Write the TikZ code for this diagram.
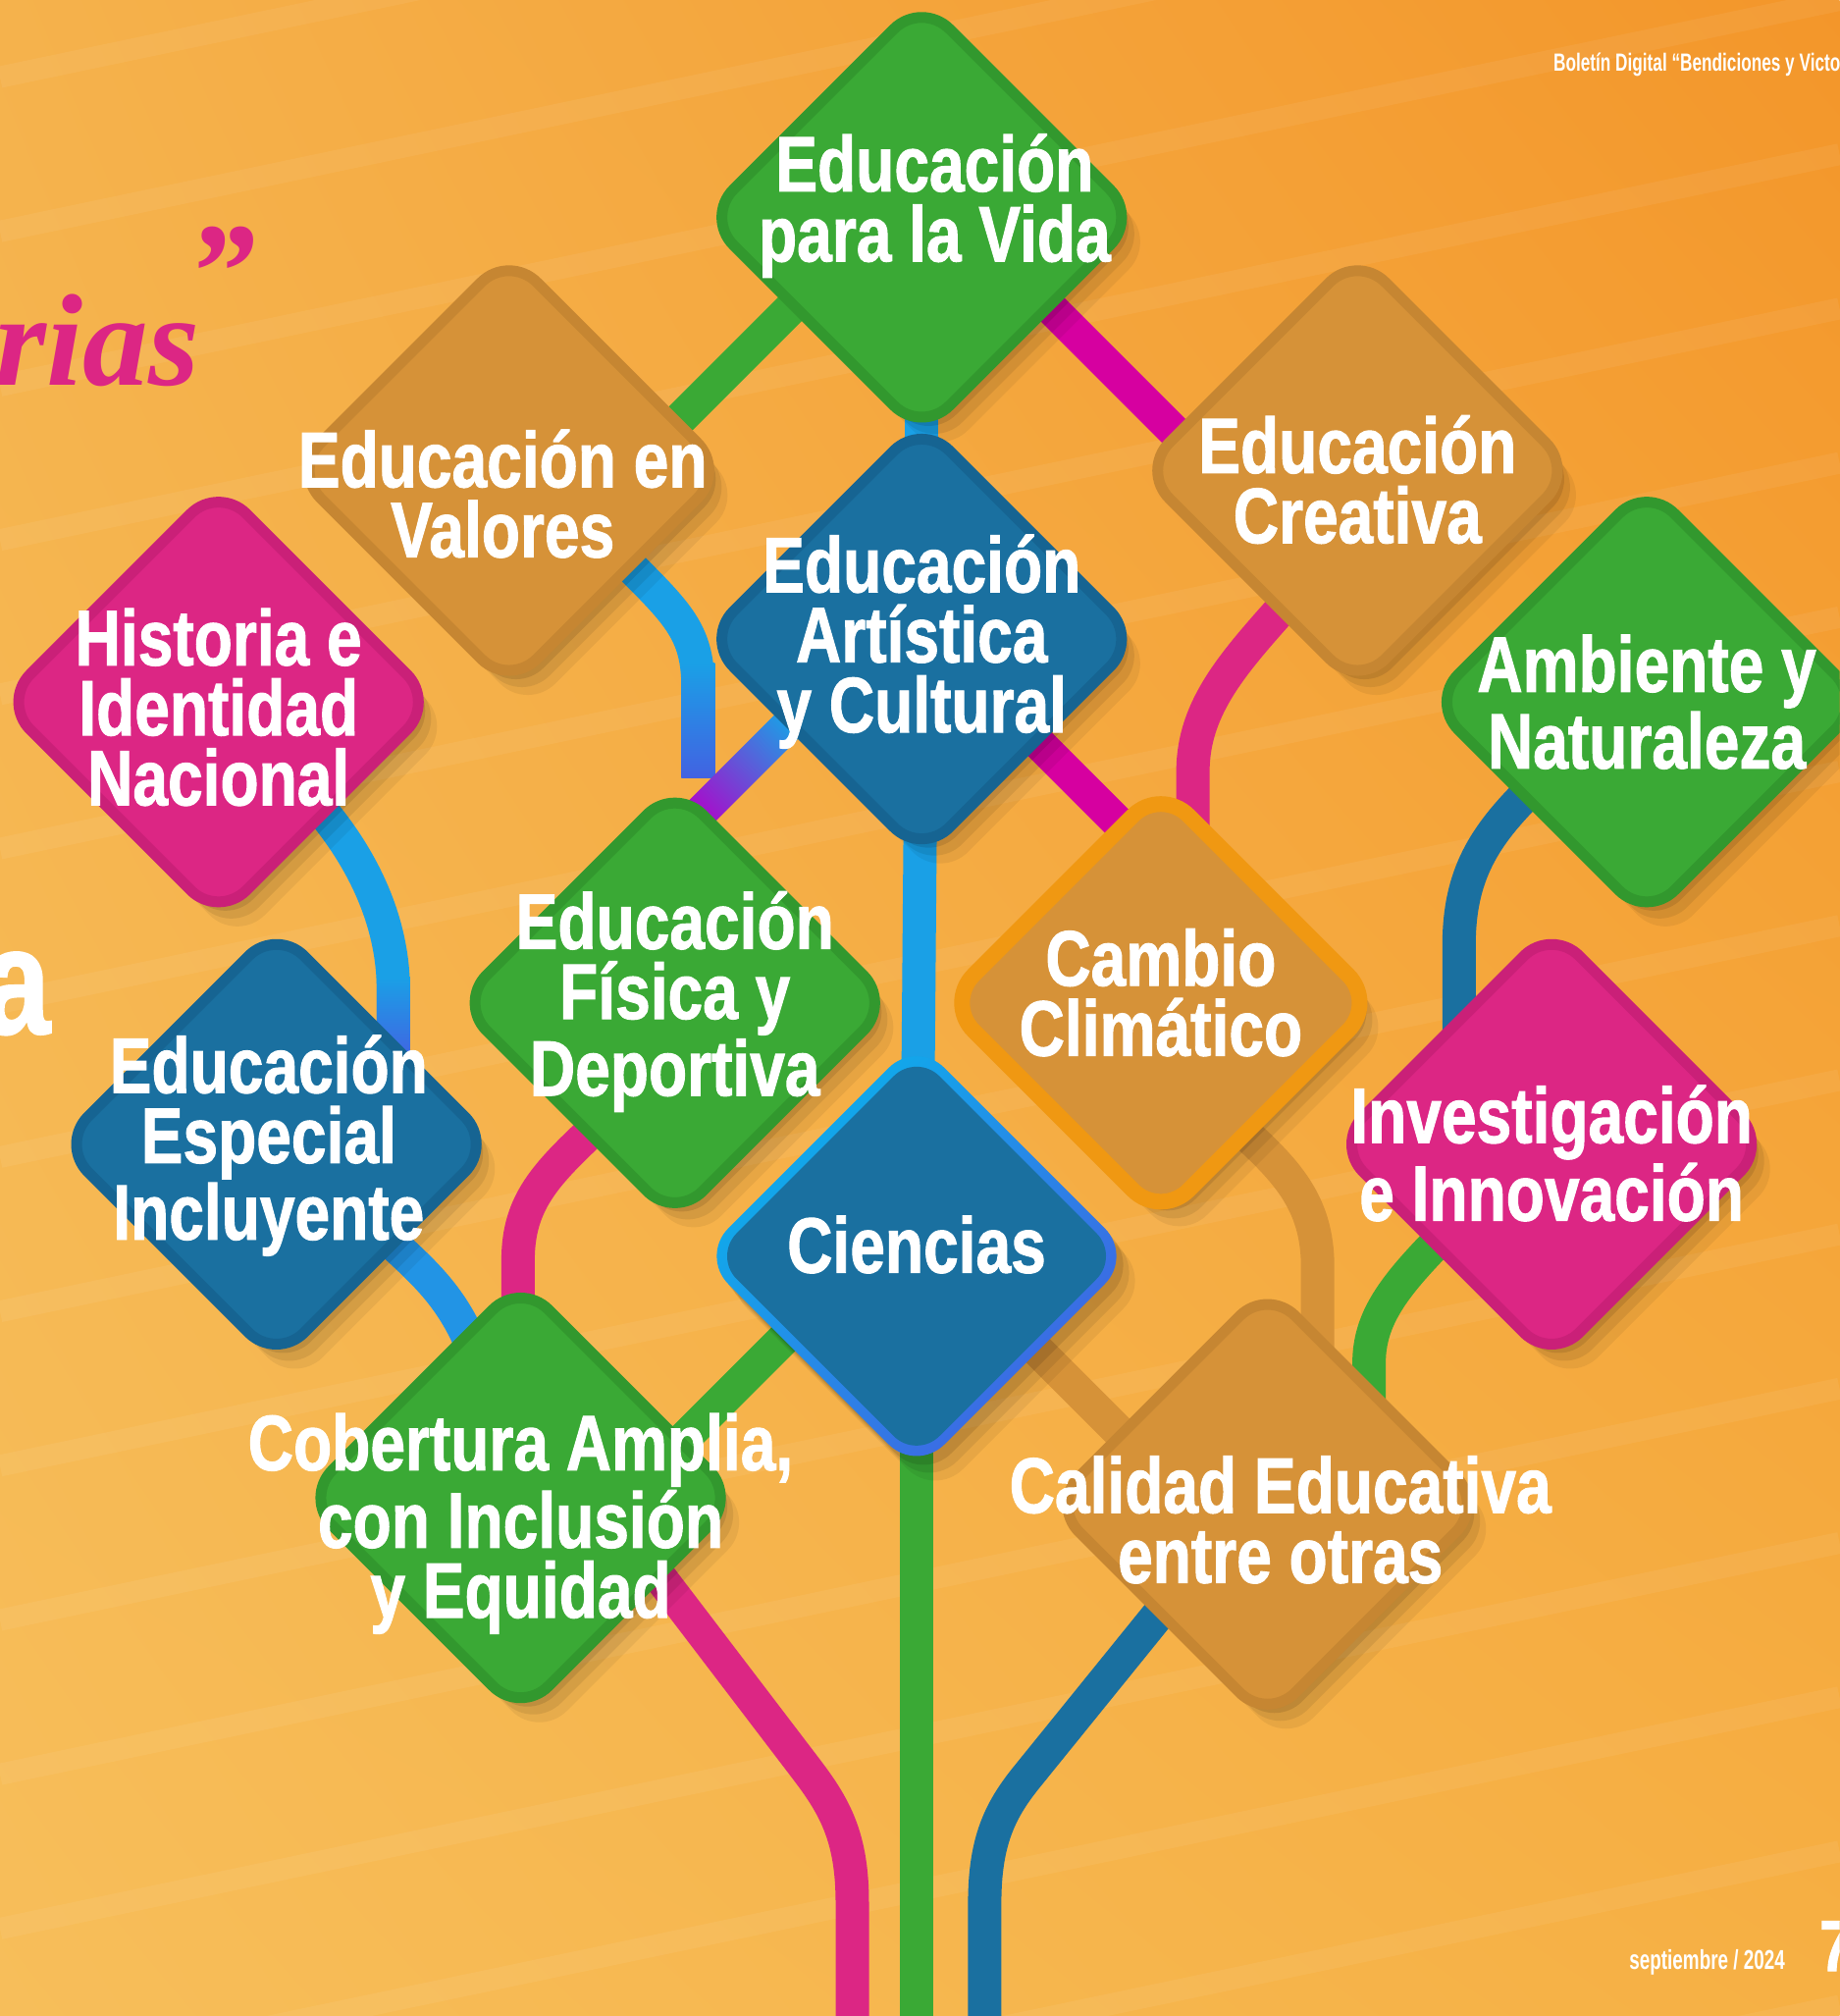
\documentclass[tikz,border=0pt]{standalone}
\usepackage{fontspec}
\newfontfamily\labfont[FakeStretch=0.80, BoldFeatures={FakeBold=1.2}]{Liberation Sans}
\newfontfamily\thinfont[FakeStretch=0.68]{Liberation Sans}
\newfontfamily\handfont{Liberation Serif}
\usetikzlibrary{shapes.geometric, shadows, shadings, calc}
\pgfdeclarelayer{bg}
\pgfdeclarelayer{wires}
\pgfsetlayers{bg,wires,main}

\definecolor{grnC}{RGB}{58,169,53}
\definecolor{grnD}{RGB}{50,152,46}
\definecolor{ochC}{RGB}{214,146,56}
\definecolor{ochD}{RGB}{198,134,50}
\definecolor{bluC}{RGB}{26,112,160}
\definecolor{bluD}{RGB}{22,100,146}
\definecolor{pnkC}{RGB}{220,38,132}
\definecolor{pnkD}{RGB}{202,32,120}
\definecolor{orgR}{RGB}{240,152,18}
\definecolor{skyC}{RGB}{26,160,230}
\definecolor{vioC}{RGB}{66,98,226}
\definecolor{magC}{RGB}{214,0,160}
\definecolor{purC}{RGB}{180,0,200}
\definecolor{cyaR}{RGB}{10,178,236}
\definecolor{bgA}{RGB}{245,178,76}
\definecolor{bgB}{RGB}{243,150,42}
\definecolor{bgC}{RGB}{247,190,90}
\definecolor{bgD}{RGB}{246,176,68}

\tikzset{
  tile/.style={diamond, minimum width=44.5mm, minimum height=44.5mm, inner sep=0pt,
    rounded corners=4mm, line width=1.1mm,
    drop shadow={shadow xshift=0.7mm, shadow yshift=-0.9mm, opacity=0.10, fill=black},
    drop shadow={shadow xshift=1.3mm, shadow yshift=-1.7mm, opacity=0.08, fill=black},
    drop shadow={shadow xshift=1.9mm, shadow yshift=-2.5mm, opacity=0.06, fill=black}},
  greentile/.style={tile, fill=grnC, draw=grnD},
  ochretile/.style={tile, fill=ochC, draw=ochD},
  bluetile/.style={tile, fill=bluC, draw=bluD},
  pinktile/.style={tile, fill=pnkC, draw=pnkD},
  climatile/.style={tile, fill=ochC, draw=orgR, line width=1.6mm},
  cienrim/.style={tile, draw=none, top color=cyaR, bottom color=vioC, shading angle=45},
  cienfill/.style={diamond, minimum width=41.4mm, minimum height=41.4mm, inner sep=0pt,
    rounded corners=3.3mm, fill=bluC},
  lbl/.style={text=white, align=center, inner sep=0pt,
    font=\labfont\bfseries\fontsize{22.8}{20.3}\selectfont},
  wire/.style={line width=3.4mm},
  streak/.style={white, opacity=0.06, line width=2.2mm},
}

\begin{document}
\begin{tikzpicture}[x=0.13103mm, y=-0.13103mm]
	\path[use as bounding box] (0,0) rectangle (1431,1568);
	\clip (0,0) rectangle (1431,1568);

	% background
	\begin{pgfonlayer}{bg}
	\shade[upper left=bgA, upper right=bgB, lower left=bgC, lower right=bgD] (0,0) rectangle (1431,1568);
	\foreach \yy in {-60,60,...,1860}
		\draw[streak] (0,\yy) -- (1431,\yy-300);
	\end{pgfonlayer}

	% page texts
	\node[anchor=base west, inner sep=0pt, text=pnkC, font=\handfont\bfseries\itshape\fontsize{38}{38}\selectfont] (rias) at (-4,300) {rias};
	\node[inner sep=0pt, text=pnkC, font=\handfont\bfseries\itshape\fontsize{40}{40}\selectfont] (quote) at (172,212) {”};
	\node[anchor=base west, inner sep=0pt, text=white, font=\labfont\bfseries\fontsize{44}{44}\selectfont] (bigA) at (-14,804) {a};
	\node[anchor=west, inner sep=0pt, text=white, font=\thinfont\bfseries\fontsize{7.2}{8}\selectfont] (head) at (1208,50) {Boletín Digital “Bendiciones y Victo};
	\node[anchor=base west, inner sep=0pt, text=white, font=\thinfont\bfseries\fontsize{7.9}{9}\selectfont] (date) at (1267,1532) {septiembre / 2024};
	\node[anchor=base west, inner sep=0pt, text=white, font=\labfont\bfseries\fontsize{21}{21}\selectfont] (pageno) at (1415,1533) {7};

	% tiles
	\node[greentile] (vida) at (717,169) {};
	\node[ochretile] (valores) at (396,366) {};
	\node[ochretile] (creativa) at (1056,366) {};
	\node[bluetile] (artistica) at (717,497) {};
	\node[pinktile] (historia) at (170,546) {};
	\node[greentile] (ambiente) at (1281,546) {};
	\node[greentile] (fisica) at (525,780) {};
	\node[climatile] (cambio) at (903,780) {};
	\node[bluetile] (especial) at (215,890) {};
	\node[pinktile] (investig) at (1207,890) {};
	\node[cienrim] (cien) at (713,977) {};
	\node[cienfill] (cienIn) at (713,977) {};
	\node[greentile] (cobertura) at (405,1165) {};
	\node[ochretile] (calidad) at (986,1170) {};

	% labels
	\node[lbl] (vidaT) at (727,160) {Educación\\para la Vida};
	\node[lbl] (valoresT) at (391,384) {Educación en\\Valores};
	\node[lbl] (creativaT) at (1056,373) {Educación\\Creativa};
	\node[lbl] (artisticaT) at (717,499) {Educación\\Artística\\y Cultural};
	\node[lbl] (historiaT) at (170,550) {Historia e\\Identidad\\Nacional};
	\node[lbl] (ambienteT) at (1281,546) {Ambiente y\\Naturaleza};
	\node[lbl] (fisicaT) at (525,779) {Educación\\Física y\\Deportiva};
	\node[lbl] (cambioT) at (903,772) {Cambio\\Climático};
	\node[lbl] (especialT) at (209,891) {Educación\\Especial\\Incluyente};
	\node[lbl] (investigT) at (1207,897) {Investigación\\e Innovación};
	\node[lbl] (cienT) at (713,968) {Ciencias};
	\node[lbl] (coberturaT) at (405,1185) {Cobertura Amplia,\\con Inclusión\\y Equidad};
	\node[lbl] (calidadT) at (996,1182) {Calidad Educativa\\entre otras};

	\coordinate (trunkEnd) at (713,1600);
	\coordinate (pinkEnd) at (663,1600);
	\coordinate (blueEnd) at (766,1600);

	% connectors
	\begin{pgfonlayer}{wires}
	\draw[wire, grnC] ($(vida)+(-77,46)$) -- ($(valores)+(104,-11)$);
	\draw[wire, magC] ($(vida)+(73,43)$) -- ($(creativa)+(-96,16)$);
	\draw[wire, skyC] (vida.center) -- (artistica.center);
	\draw[wire, skyC] ($(valores)+(82,62)$) -- ($(valores)+(99,79)$)
		.. controls ($(valores)+(134,114)$) and ($(valores)+(147,129)$) .. ($(valores)+(147,169)$)
		-- ($(fisica)+(18,-175)$);
	\shade[top color=skyC, bottom color=vioC] ($(valores)+(134,150)$) rectangle ($(fisica)+(31,-175)$);
	\shade[top color=skyC, bottom color=purC, shading angle=-45]
		($(fisica)+(-2.2,-144.2)$) -- ($(artistica)+(-104.2,48.8)$)
		-- ($(artistica)+(-85.8,67.2)$) -- ($(fisica)+(16.2,-125.8)$) -- cycle;
	\draw[wire, magC] ($(artistica)+(70,60)$) -- ($(cambio)+(27,-80)$);
	\draw[wire, skyC] (artistica.center) -- (cien.center);
	\draw[wire, pnkC] ($(creativa)+(-26,74)$) -- ($(creativa)+(-56,104)$)
		.. controls ($(creativa)+(-96,149)$) and ($(creativa)+(-128,184)$) .. ($(creativa)+(-128,234)$)
		-- ($(cambio)+(25,-90)$);
	\draw[wire, skyC] ($(historia)+(60,60)$) -- ($(historia)+(80,84)$)
		.. controls ($(historia)+(115,126)$) and ($(historia)+(136,174)$) .. ($(historia)+(136,224)$)
		-- ($(especial)+(91,-40)$);
	\shade[top color=skyC, bottom color=vioC] ($(historia)+(123,214)$) rectangle ($(especial)+(104,-65)$);
	\draw[wire, skyC!80!vioC] ($(especial)+(55,45)$) -- ($(especial)+(85,72)$)
		.. controls ($(especial)+(115,100)$) and ($(especial)+(140,120)$) .. ($(cobertura)+(-33,-105)$);
	\draw[wire, pnkC] ($(fisica)+(-35,70)$) -- ($(fisica)+(-63,98)$)
		.. controls ($(fisica)+(-100,133)$) and ($(fisica)+(-122,155)$) .. ($(fisica)+(-122,200)$)
		-- ($(cobertura)+(-2,-125)$);
	\draw[wire, grnC] ($(cien)+(-53,14)$) -- ($(cobertura)+(75,6)$);
	\draw[wire, ochC] ($(cien)+(47,26)$) -- ($(calidad)+(-56,3)$);
	\draw[wire, ochC] ($(cambio)+(37,75)$) -- ($(cambio)+(62,98)$)
		.. controls ($(cambio)+(97,130)$) and ($(cambio)+(122,155)$) .. ($(cambio)+(122,205)$)
		-- ($(calidad)+(39,-90)$);
	\draw[wire, bluC] ($(ambiente)+(-66,44)$) -- ($(ambiente)+(-91,69)$)
		.. controls ($(ambiente)+(-126,104)$) and ($(ambiente)+(-146,134)$) .. ($(ambiente)+(-146,189)$)
		-- ($(investig)+(-72,-50)$);
	\draw[wire, grnC] ($(investig)+(-62,50)$) -- ($(investig)+(-87,74)$)
		.. controls ($(investig)+(-122,110)$) and ($(investig)+(-142,135)$) .. ($(investig)+(-142,170)$)
		-- ($(calidad)+(79,-40)$);
	\draw[wire, grnC] (cien.center) -- (trunkEnd);
	\draw[wire, pnkC] ($(cobertura)+(85,31)$) -- ($(cobertura)+(223,212)$)
		.. controls ($(cobertura)+(245,241)$) and ($(cobertura)+(258,265)$) .. ($(cobertura)+(258,315)$)
		-- (pinkEnd);
	\draw[wire, bluC] ($(calidad)+(-56,50)$) -- ($(calidad)+(-188,213)$)
		.. controls ($(calidad)+(-208,238)$) and ($(calidad)+(-220,262)$) .. ($(calidad)+(-220,310)$)
		-- (blueEnd);
	\end{pgfonlayer}
\end{tikzpicture}
\end{document}
